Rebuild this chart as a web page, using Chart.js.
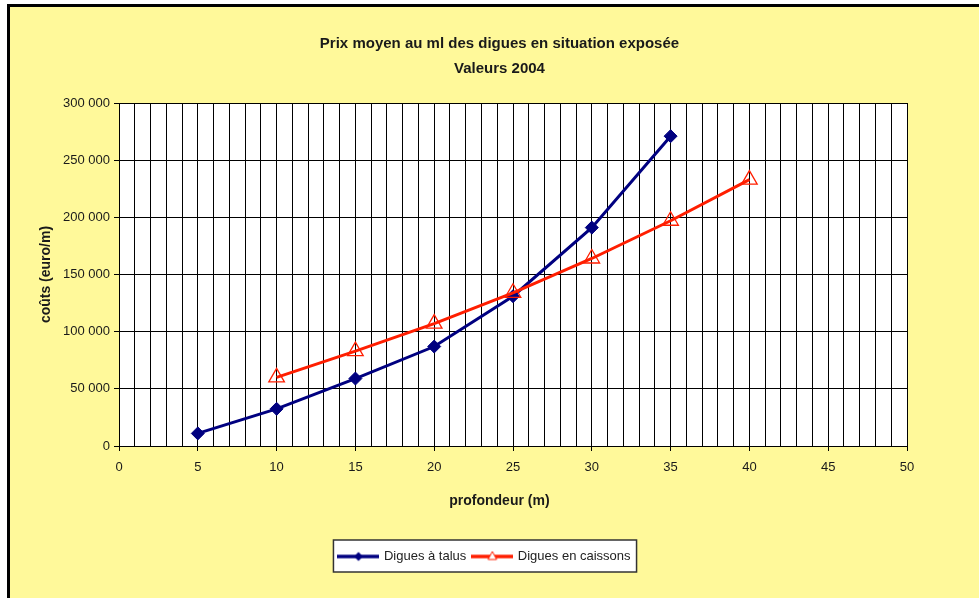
<!DOCTYPE html>
<html lang="fr">
<head>
<meta charset="utf-8">
<title>Prix moyen au ml des digues en situation exposée</title>
<script src="https://cdn.jsdelivr.net/npm/chart.js@4.4.1/dist/chart.umd.min.js"></script>
<style>
  html, body { margin: 0; padding: 0; background: #ffffff; overflow: hidden; }
  #frame {
    position: absolute; left: 7px; top: 4px;
    width: 972px; height: 594px;
    border-left: 3px solid #000; border-top: 3px solid #000;
    background: #FFF99A;
  }
  #chart { display: block; }
</style>
</head>
<body>
<div id="frame"><canvas id="chart" width="969" height="591"></canvas></div>
<script>
// Profondeur (m) et coût moyen au mètre linéaire (euro/m), valeurs 2004
const talusDepth    = [5, 10, 15, 20, 25, 30, 35];
const talusCost     = [11000, 32500, 59000, 87000, 131000, 191000, 271000];
const caissonsDepth = [10, 15, 20, 25, 30, 35, 40];
const caissonsCost  = [60000, 83000, 107000, 134000, 164000, 197000, 233000];

const seriesNames = ['Digues à talus', 'Digues en caissons'];
const chartTitle  = ['Prix moyen au ml des digues en situation exposée', 'Valeurs 2004'];
// trailing no-break spaces pull the axis title a little left of the axis centre
const xTitle = 'profondeur (m)' + '\u00A0'.repeat(7);
const yTitle = 'coûts (euro/m)';

const BLUE = '#000080';
const RED = '#FF1E00';
const FONT = '"Liberation Sans", Arial, sans-serif';

const toPoints = (xs, ys) => xs.map((x, i) => ({ x: x, y: ys[i] }));
const spaced = v => String(v).replace(/\B(?=(\d{3})+(?!\d))/g, ' ');

// Small line-plus-marker samples for the legend
function legendSample(color, marker) {
  const c = document.createElement('canvas');
  c.width = 42; c.height = 14;
  const g = c.getContext('2d');
  g.strokeStyle = color; g.lineWidth = 3.5;
  g.beginPath(); g.moveTo(0, 7); g.lineTo(42, 7); g.stroke();
  if (marker === 'diamond') {
    g.fillStyle = color;
    g.beginPath(); g.moveTo(21, 2.5); g.lineTo(25.5, 7); g.lineTo(21, 11.5); g.lineTo(16.5, 7); g.closePath(); g.fill();
  } else {
    g.fillStyle = '#ffffff'; g.lineWidth = 1;
    g.beginPath(); g.moveTo(21, 2); g.lineTo(25.3, 10); g.lineTo(16.7, 10); g.closePath(); g.fill(); g.stroke();
  }
  return c;
}
const legendStyles = [legendSample(BLUE, 'diamond'), legendSample(RED, 'triangle')];

const LEGEND_PAD = 7;

const framePlugin = {
  id: 'frameBoxes',
  afterLayout(chart) {
    // centre the title and the legend independently of the right margin
    const t = chart.titleBlock;
    t.left = 10; t.right = chart.width;
    const lg = chart.legend;
    if (lg && lg.lineWidths) {
      const lw = lg.lineWidths[0];
      const startX = 474 - (lw - LEGEND_PAD - 2) / 2;
      lg.left = 0;
      lg.right = 2 * startX - LEGEND_PAD + lw;
    }
  },
  beforeDraw(chart) {
    const { ctx, chartArea: a } = chart;
    ctx.save();
    ctx.fillStyle = '#ffffff';
    ctx.fillRect(a.left, a.top, a.right - a.left, a.bottom - a.top);
    const lg = chart.legend;
    if (lg && lg.lineWidths) {
      const lw = lg.lineWidths[0];
      const startX = (lg.left + LEGEND_PAD + lg.right - lw) / 2;
      const x0 = startX - 6, x1 = startX + lw - LEGEND_PAD + 6;
      const y0 = 533, y1 = 565;
      ctx.fillStyle = '#ffffff';
      ctx.fillRect(x0, y0, x1 - x0, y1 - y0);
      ctx.strokeStyle = '#333333'; ctx.lineWidth = 1.5;
      ctx.strokeRect(x0, y0, x1 - x0, y1 - y0);
    }
    ctx.restore();
  }
};

new Chart(document.getElementById('chart'), {
  type: 'line',
  data: {
    datasets: [
      {
        label: seriesNames[0],
        data: toPoints(talusDepth, talusCost),
        borderColor: BLUE, backgroundColor: BLUE,
        borderWidth: 3,
        pointStyle: 'rectRot', pointRadius: 6.5, pointBorderWidth: 1,
        pointBackgroundColor: BLUE, pointBorderColor: BLUE,
        tension: 0, order: 1
      },
      {
        label: seriesNames[1],
        data: toPoints(caissonsDepth, caissonsCost),
        borderColor: RED, backgroundColor: 'rgba(0,0,0,0)',
        borderWidth: 3,
        pointStyle: 'triangle', pointRadius: 9, pointBorderWidth: 1.3,
        pointBackgroundColor: 'rgba(0,0,0,0)', pointBorderColor: RED,
        tension: 0, order: 0
      }
    ]
  },
  options: {
    responsive: false,
    animation: false,
    devicePixelRatio: 1,
    layout: { padding: { left: 0, right: 72, top: 0, bottom: 25 } },
    scales: {
      x: {
        type: 'linear', min: 0, max: 50,
        afterFit: s => { s.height = 97; },
        ticks: {
          stepSize: 1, autoSkip: false, maxRotation: 0, padding: 9,
          color: '#1a1a1a', font: { family: FONT, size: 13 },
          callback: v => (v % 5 === 0 ? String(v) : '')
        },
        grid: {
          color: '#000', lineWidth: 1, drawTicks: true, tickLength: 5,
          tickColor: c => (c.tick && c.tick.value % 5 === 0 ? '#000' : 'rgba(0,0,0,0)')
        },
        border: { color: '#000', width: 1 },
        title: {
          display: true, text: xTitle, color: '#1a1a1a',
          font: { family: FONT, size: 14, weight: 'bold' },
          padding: { top: 0, bottom: 33.6 }
        }
      },
      y: {
        min: 0, max: 300000,
        afterFit: s => { s.width = 109; },
        ticks: {
          stepSize: 50000, padding: 4,
          color: '#1a1a1a', font: { family: FONT, size: 13 },
          callback: v => spaced(v)
        },
        grid: { color: '#000', lineWidth: 1, drawTicks: true, tickLength: 5, tickColor: '#000' },
        border: { color: '#000', width: 1 },
        title: {
          display: true, text: yTitle, color: '#1a1a1a',
          font: { family: FONT, size: 14, weight: 'bold' },
          padding: { top: 28, bottom: 0 }
        }
      }
    },
    plugins: {
      title: {
        display: true, text: chartTitle, color: '#1a1a1a',
        font: { family: FONT, size: 15, weight: 'bold', lineHeight: 25 / 15 },
        padding: { top: 24, bottom: 22 }
      },
      legend: {
        display: true, position: 'bottom',
        labels: {
          usePointStyle: true, pointStyleWidth: 38, padding: LEGEND_PAD,
          color: '#222', font: { family: FONT, size: 13 },
          sort: (a, b) => a.datasetIndex - b.datasetIndex,
          generateLabels: chart => Chart.defaults.plugins.legend.labels.generateLabels(chart)
            .map(item => Object.assign(item, { pointStyle: legendStyles[item.datasetIndex] }))
        }
      },
      tooltip: { enabled: false }
    }
  },
  plugins: [framePlugin]
});
</script>
</body>
</html>
